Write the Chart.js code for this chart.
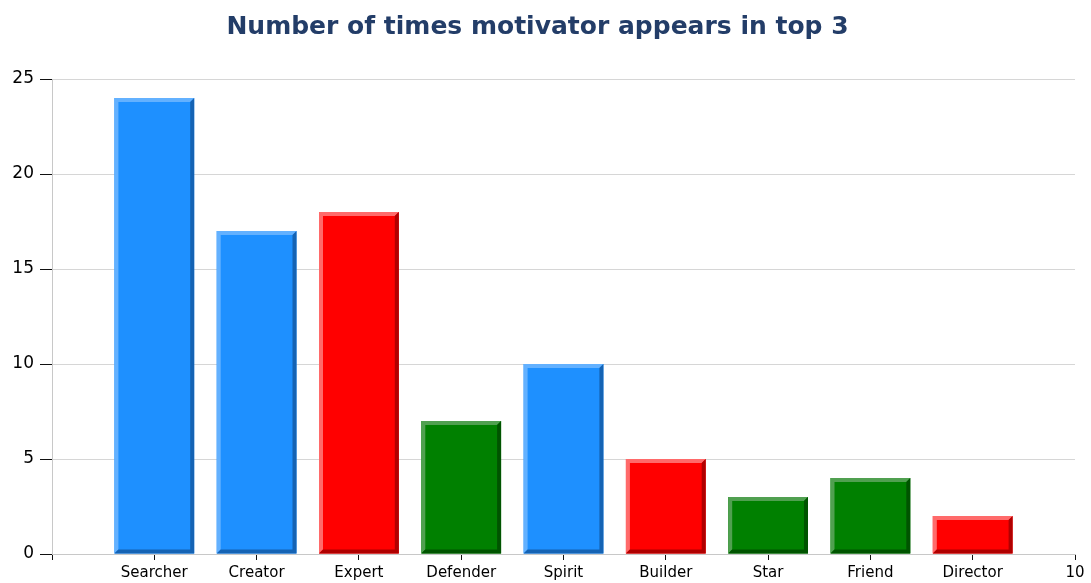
<!doctype html>
<html>
<head>
<title>Number of times motivator appears in top 3</title>
	<script src="https://cdn.jsdelivr.net/npm/chart.js@4/dist/chart.umd.min.js"></script>
	<style>
		html, body { margin: 0; padding: 0; background: #fff; }
		#wrap { width: 1091px; height: 583px; }
	</style>
</head>

<body>
	<div id="wrap">
		<canvas id="canvas"></canvas>
	</div>
	<script>
		var categories = ['Searcher', 'Creator', 'Expert', 'Defender', 'Spirit', 'Builder', 'Star', 'Friend', 'Director'];
		var counts = [24, 17, 18, 7, 10, 5, 3, 4, 2];
		var groups = ['blue', 'blue', 'red', 'green', 'blue', 'red', 'green', 'green', 'red'];
		var xTickLabels = ['', 'Searcher', 'Creator', 'Expert', 'Defender', 'Spirit', 'Builder', 'Star', 'Friend', 'Director', '10'];
		var yTicks = [0, 5, 10, 15, 20, 25];

		var palette = {
			blue: { fill: '#1e90ff', light: '#63b1ff', dark: '#1563b4' },
			red: { fill: '#ff0000', light: '#ff6a6a', dark: '#b00000' },
			green: { fill: '#008000', light: '#50a050', dark: '#005400' }
		};

		// draws the raised edges on top of each bar
		var bevel = {
			id: 'bevel',
			afterDatasetsDraw: function(chart) {
				var ctx = chart.ctx;
				var meta = chart.getDatasetMeta(0);
				meta.data.forEach(function(bar, i) {
					var p = bar.getProps(['x', 'y', 'base', 'width'], true);
					var l = p.x - p.width / 2, r = p.x + p.width / 2;
					var t = Math.min(p.y, p.base), b = Math.max(p.y, p.base);
					var e = 4;
					var c = palette[groups[i]];
					ctx.save();
					ctx.fillStyle = c.light;
					ctx.beginPath();
					ctx.moveTo(l, b); ctx.lineTo(l, t); ctx.lineTo(r, t);
					ctx.lineTo(r - e, t + e); ctx.lineTo(l + e, t + e); ctx.lineTo(l + e, b - e);
					ctx.closePath(); ctx.fill();
					ctx.fillStyle = c.dark;
					ctx.beginPath();
					ctx.moveTo(r, t); ctx.lineTo(r, b); ctx.lineTo(l, b);
					ctx.lineTo(l + e, b - e); ctx.lineTo(r - e, b - e); ctx.lineTo(r - e, t + e);
					ctx.closePath(); ctx.fill();
					ctx.restore();
				});
			}
		};

		var config = {
			type: 'bar',
			data: {
				datasets: [{
					label: 'Count',
					data: counts.map(function(v, i) { return { x: i + 1, y: v }; }),
					backgroundColor: groups.map(function(g) { return palette[g].fill; }),
					borderWidth: 0,
					categoryPercentage: 1,
					barPercentage: 0.78
				}]
			},
			options: {
				responsive: true,
				maintainAspectRatio: false,
				animation: false,
				layout: { padding: { left: 0, right: 16, top: 0, bottom: 0 } },
				plugins: {
					legend: { display: false },
					tooltip: { enabled: false },
					title: {
						display: true,
						text: 'Number of times motivator appears in top 3',
						color: '#233d68',
						font: { family: 'DejaVu Sans', size: 25, weight: 'bold' },
						padding: { top: 12, bottom: 37 }
					}
				},
				scales: {
					x: {
						type: 'linear',
						min: 0,
						max: 10,
						offset: false,
						afterFit: function(scale) { scale.height = 29; },
						afterBuildTicks: function(scale) {
							scale.ticks = xTickLabels.map(function(s, i) { return { value: i }; });
						},
						ticks: {
							autoSkip: false,
							maxRotation: 0,
							padding: 4,
							color: '#000',
							font: { family: 'DejaVu Sans', size: 15 },
							callback: function(v) { return xTickLabels[v]; }
						},
						grid: { offset: false, drawOnChartArea: false, drawTicks: true, tickLength: 6, tickColor: '#111' },
						border: { color: '#c8c8c8', width: 1 }
					},
					y: {
						min: 0,
						max: 25,
						afterFit: function(scale) { scale.width = 52; },
						afterBuildTicks: function(scale) {
							scale.ticks = yTicks.map(function(v) { return { value: v }; });
						},
						ticks: {
							padding: 6,
							color: '#000',
							font: { family: 'DejaVu Sans', size: 17 }
						},
						grid: { color: '#d6d6d6', drawTicks: true, tickLength: 12, tickColor: '#111' },
						border: { color: '#c8c8c8', width: 1 }
					}
				}
			},
			plugins: [bevel]
		};

		window.onload = function() {
			var ctx = document.getElementById('canvas').getContext('2d');
			window.myBar = new Chart(ctx, config);
		};
	</script>
</body>

</html>
